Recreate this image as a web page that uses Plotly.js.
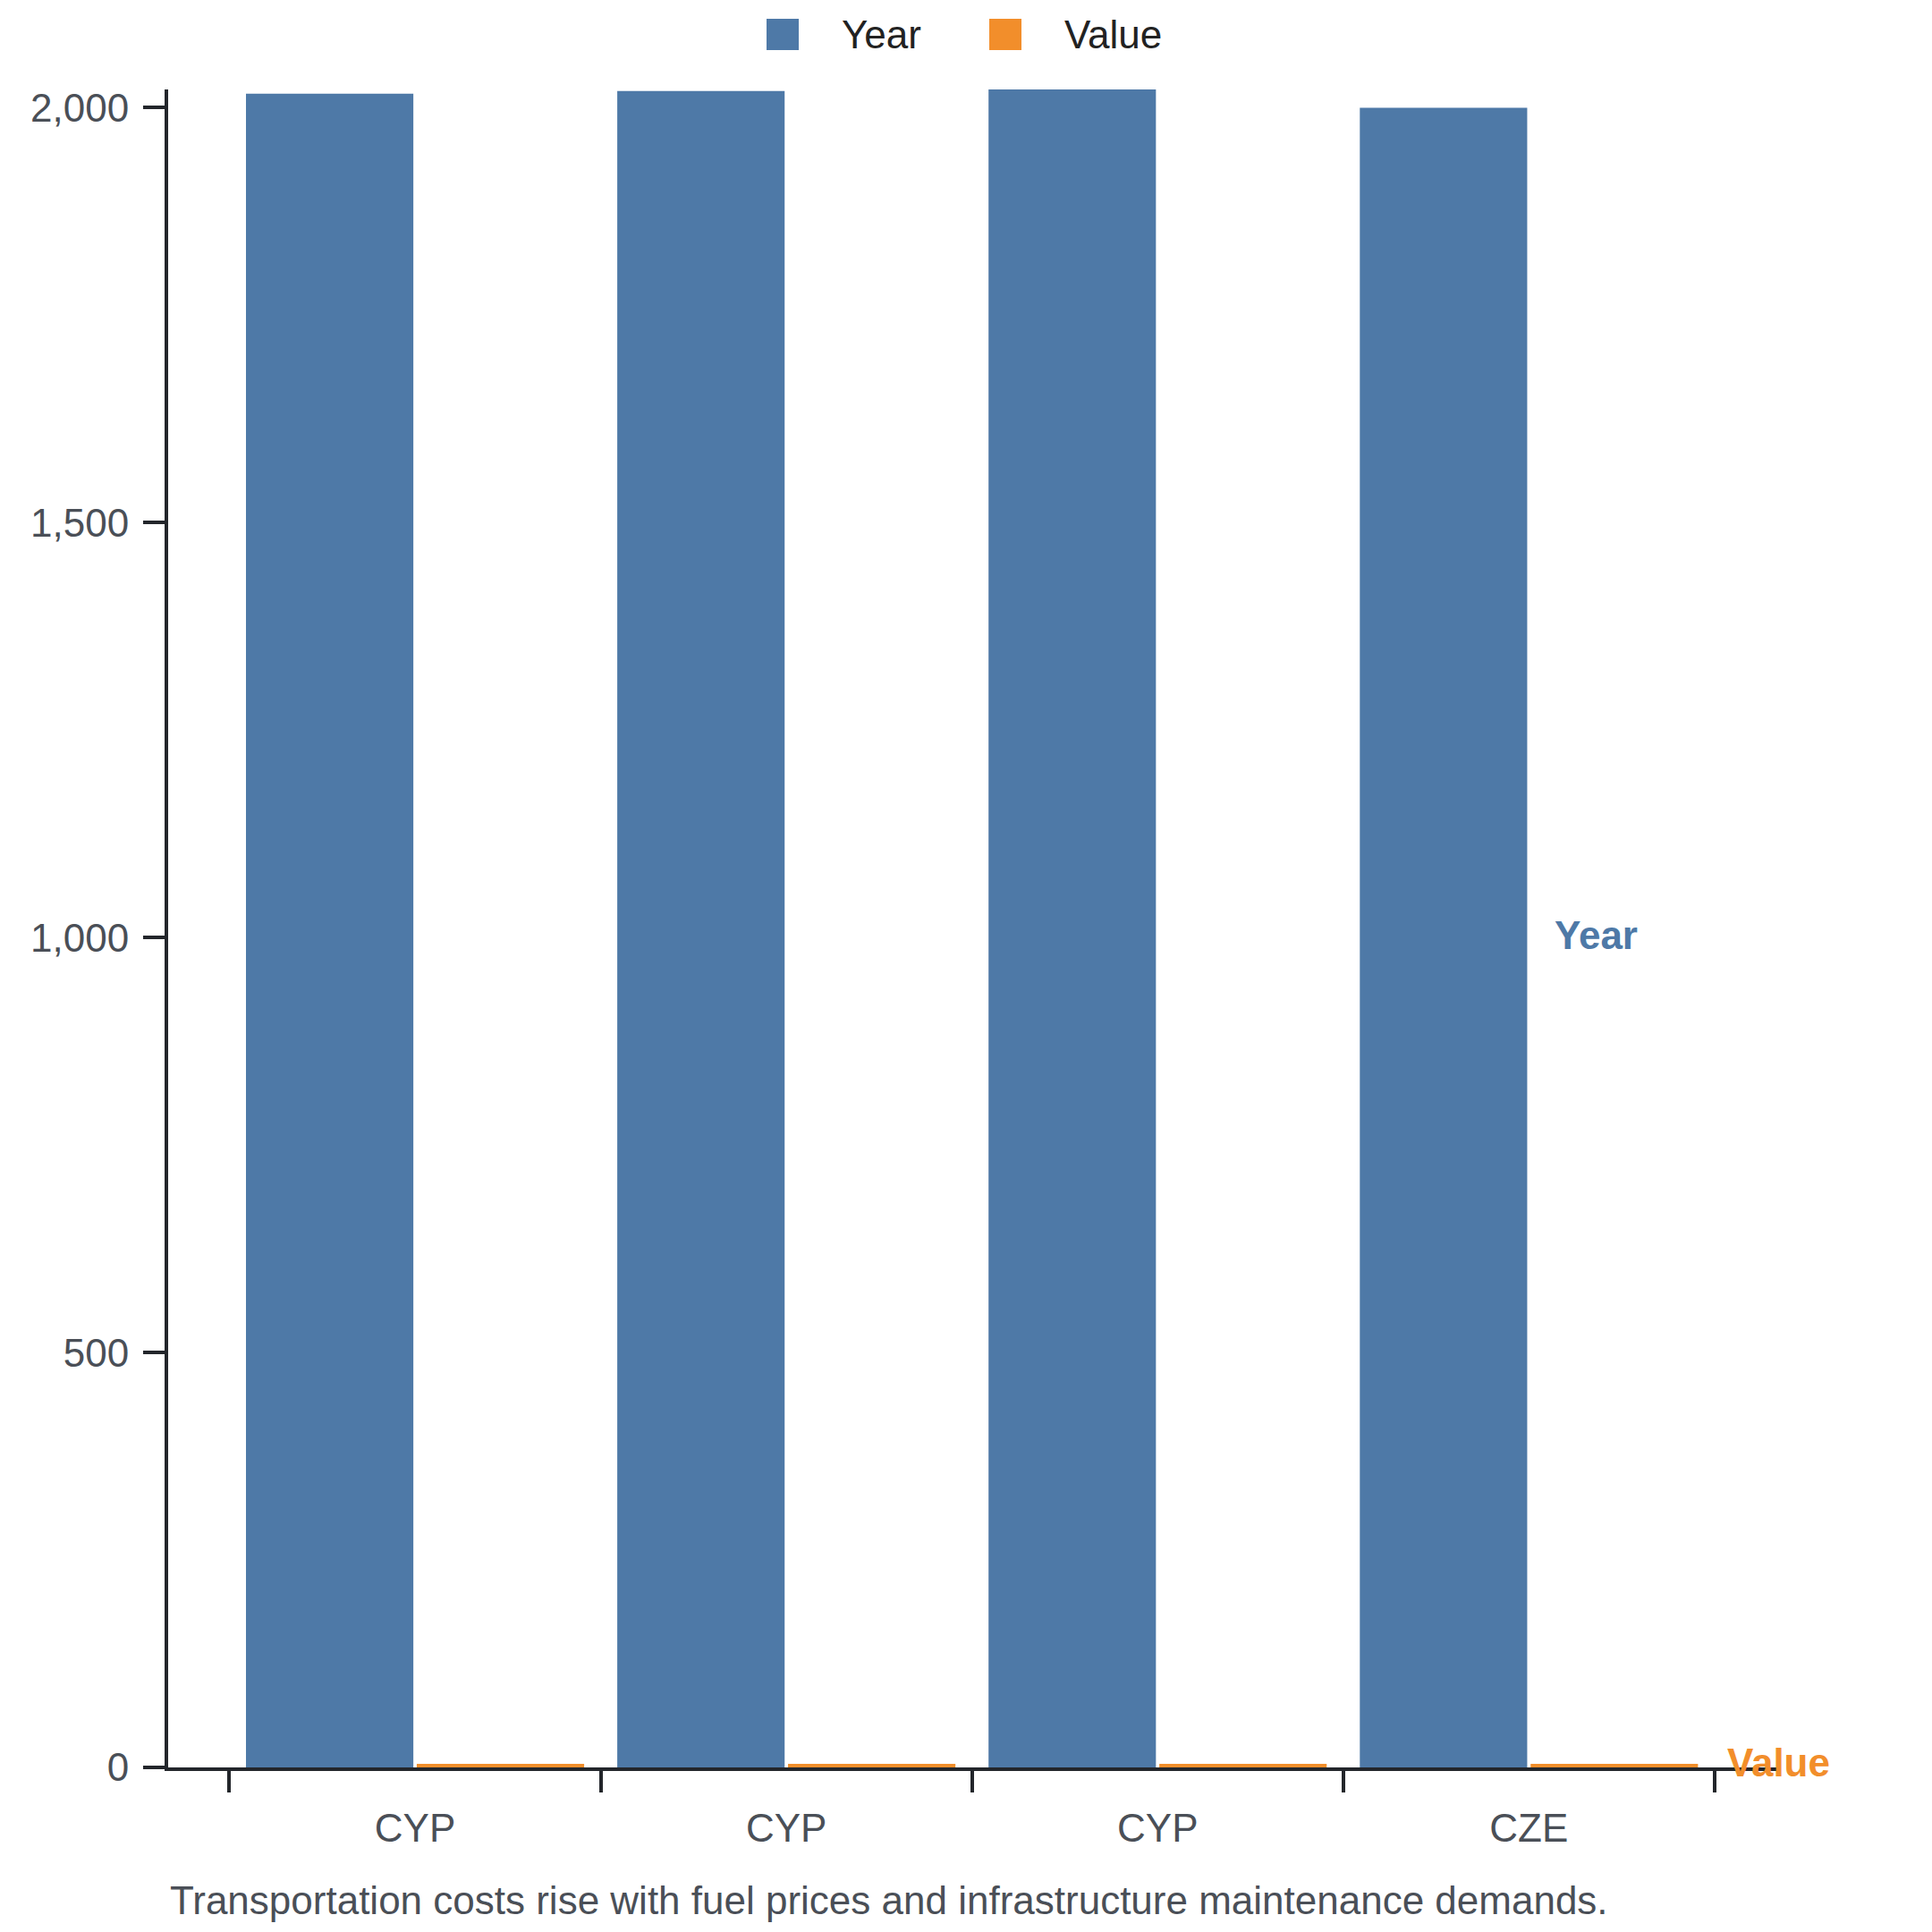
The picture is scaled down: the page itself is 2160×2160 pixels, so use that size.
<!DOCTYPE html>
<html>
<head>
<meta charset="utf-8">
<script src="https://cdn.plot.ly/plotly-3.0.1.min.js"></script>
<style>
  html, body { margin:0; padding:0; background:#fff; }
  #myDiv { width:2160px; height:2160px; }
</style>
</head>
<body>
<div id="myDiv"></div>
<script>
// chart data
var categories = ['CYP', 'CYP', 'CYP', 'CZE'];
var yearVals   = [2017, 2020, 2022, 2000];
var valueVals  = [4.3, 4.3, 4.3, 4.3];
var seriesNames = ['Year', 'Value'];
var yTicks = [0, 500, 1000, 1500, 2000];
var caption = 'Transportation costs rise with fuel prices and infrastructure maintenance demands.';

var BLUE = '#4e79a7';
var ORANGE = '#f28e2b';
var AXIS = '#23262b';
var LABEL = '#4a4f57';
var FONT = '"Liberation Sans", Arial, Helvetica, sans-serif';

/**************************************************************/
var W = 2160, H = 2160;
var M = { l:188, r:174, t:100, b:184 };
var pw = W - M.l - M.r;
var ph = H - M.t - M.b;

// pixel -> paper helpers for the legend block
function px2x(px) { return (px - M.l) / pw; }
function py2y(py) { return (H - M.b - py) / ph; }

// unique keys so repeated country codes stay separate bars
var xKeys = categories.map(function(c, i) { return i + '_' + c; });

function makeTraces() {
  var vals = [yearVals, valueVals];
  var cols = [BLUE, ORANGE];
  var ret = [];
  for (var i = 0; i < vals.length; i++) {
    ret.push({
      x: xKeys,
      y: vals[i],
      name: seriesNames[i],
      type: 'bar',
      marker: { color: cols[i], line: { width: 0 } },
      hoverinfo: 'skip',
      showlegend: false
    });
  }
  return ret;
}

function legendBits() {
  var shapes = [], ann = [];
  var items = [
    { name: seriesNames[0], color: BLUE,   sw: 857,  tx: 939 },
    { name: seriesNames[1], color: ORANGE, sw: 1106, tx: 1188 }
  ];
  items.forEach(function(it) {
    shapes.push({
      type: 'rect', xref: 'paper', yref: 'paper',
      x0: px2x(it.sw), x1: px2x(it.sw + 36),
      y0: py2y(21), y1: py2y(56),
      fillcolor: it.color, line: { width: 0 }
    });
    ann.push({
      xref: 'paper', yref: 'paper', x: px2x(it.tx), y: py2y(38),
      xanchor: 'left', yanchor: 'middle', showarrow: false,
      text: it.name, font: { family: FONT, size: 44, color: '#222' }
    });
  });
  return { shapes: shapes, ann: ann };
}

function getLayout() {
  var leg = legendBits();
  var last = categories.length - 1;
  var ann = leg.ann.concat([
    { x: last + 0.065, y: yearVals[last] / 2, xref: 'x', yref: 'y', yshift: 3,
      xanchor: 'left', yanchor: 'middle', showarrow: false,
      text: '<b>' + seriesNames[0] + '</b>',
      font: { family: FONT, size: 44, color: BLUE } },
    { x: last + 0.530, y: valueVals[last] / 2, xref: 'x', yref: 'y', yshift: 4,
      xanchor: 'left', yanchor: 'middle', showarrow: false,
      text: '<b>' + seriesNames[1] + '</b>',
      font: { family: FONT, size: 44, color: ORANGE } },
    { x: 0, y: py2y(2124), xref: 'paper', yref: 'paper',
      xanchor: 'left', yanchor: 'middle', showarrow: false,
      text: caption, font: { family: FONT, size: 44, color: LABEL } }
  ]);

  return {
    width: W, height: H,
    margin: { l: M.l, r: M.r, t: M.t, b: M.b, pad: 0 },
    paper_bgcolor: '#fff',
    plot_bgcolor: '#fff',
    barmode: 'group',
    bargap: 0.08,
    bargroupgap: 0.02,
    showlegend: false,
    font: { family: FONT, size: 44, color: LABEL },
    xaxis: {
      type: 'category',
      categoryorder: 'array',
      categoryarray: xKeys,
      tickmode: 'array',
      tickvals: xKeys,
      ticktext: categories,
      tickson: 'boundaries',
      range: [-0.665, last + 0.6665],
      showline: true, linecolor: AXIS, linewidth: 4,
      ticks: 'outside', ticklen: 24, tickwidth: 4, tickcolor: AXIS,
      ticklabelstandoff: 26,
      showgrid: false, zeroline: false,
      tickfont: { family: FONT, size: 44, color: LABEL },
      fixedrange: true
    },
    yaxis: {
      range: [0, Math.max.apply(null, yearVals)],
      tickmode: 'array',
      tickvals: yTicks,
      tickformat: ',d',
      showline: true, linecolor: AXIS, linewidth: 4,
      ticks: 'outside', ticklen: 24, tickwidth: 4, tickcolor: AXIS,
      ticklabelstandoff: 7,
      showgrid: false, zeroline: false,
      tickfont: { family: FONT, size: 44, color: LABEL },
      fixedrange: true
    },
    shapes: leg.shapes,
    annotations: ann
  };
}

Plotly.newPlot('myDiv', makeTraces(), getLayout(), { displayModeBar: false, staticPlot: true });
</script>
</body>
</html>
